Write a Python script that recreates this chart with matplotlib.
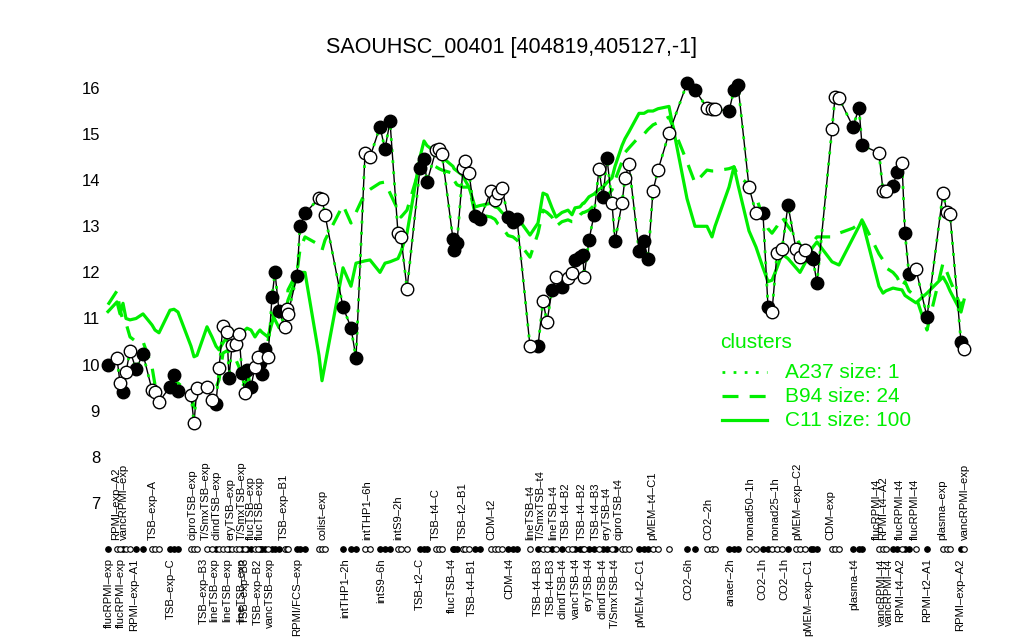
import numpy as np
import matplotlib
matplotlib.use("Agg")
import matplotlib.pyplot as plt
from matplotlib.lines import Line2D

plt.rcParams['font.family'] = ['Liberation Sans', 'DejaVu Sans']

# condition positions along the x axis, expression values, filled marker flag
pos = [8, 17, 20, 23, 26, 30, 36, 43, 52, 55, 59, 70, 74, 78, 91, 94, 97,
       107, 112, 116, 119, 123, 127, 129, 132, 136, 139, 142, 145, 147, 151, 155, 158,
       160, 162, 165, 168, 172, 175, 179, 185, 187, 188, 197, 200, 205, 219, 222, 225,
       243, 251, 256, 265, 270, 280, 285, 290, 298, 301, 307, 320, 324, 327, 336, 339,
       342, 353, 354, 357, 363, 365, 369, 375, 380, 391, 395, 398, 402, 408, 413, 417,
       430, 438, 443, 447, 452, 456, 462, 468, 472, 475, 480, 483, 484, 489, 494, 499,
       503, 507, 512, 515, 522, 525, 529, 539, 544, 548, 553, 558, 569, 587, 595, 607,
       612, 615, 629, 634, 638, 649, 656, 663, 668, 672, 677, 682, 688, 696, 700, 705,
       711, 713, 717, 732, 735, 739, 753, 759, 762, 779, 783, 786, 793, 797, 802, 805,
       809, 816, 827, 843, 847, 850, 861, 864]
expr = [9.99, 10.14, 9.60, 9.41, 9.84, 10.30, 9.90, 10.23, 9.45, 9.41, 9.19, 9.52, 9.77,
        9.43, 9.34, 8.73, 9.50, 9.52, 9.23, 9.15, 9.92, 10.84, 10.71, 9.70, 10.42, 10.45,
        10.66, 9.82, 9.38, 9.88, 9.52, 9.95, 10.17, 10.03, 9.80, 10.34, 10.17, 11.47, 12.00,
        11.16, 10.82, 11.20, 11.10, 11.93, 13.00, 13.28, 13.61, 13.60, 13.25, 11.25, 10.80,
        10.14, 14.59, 14.50, 15.16, 14.67, 15.28, 12.85, 12.77, 11.64, 14.26, 14.46, 13.96,
        14.65, 14.67, 14.57, 12.72, 12.48, 12.64, 14.26, 14.42, 14.15, 13.22, 13.16, 13.77,
        13.57, 13.72, 13.83, 13.20, 13.09, 13.16, 10.40, 10.40, 11.38, 10.92, 11.62, 11.90,
        11.68, 11.88, 11.99, 12.27, 12.34, 12.38, 11.90, 12.70, 13.25, 14.24, 13.63, 14.48,
        13.50, 12.68, 13.50, 14.04, 14.35, 12.47, 12.68, 12.28, 13.77, 14.22, 15.02, 16.10,
        15.96, 15.57, 15.54, 15.54, 15.50, 15.96, 16.06, 13.85, 13.28, 13.28, 11.26, 11.15,
        12.42, 12.50, 13.46, 12.50, 12.33, 12.48, 12.33, 12.28, 11.77, 15.10, 15.80, 15.78,
        15.16, 15.57, 14.76, 14.59, 13.77, 13.77, 13.87, 14.18, 14.37, 12.85, 11.96, 12.07,
        11.03, 13.72, 13.31, 13.27, 10.49, 10.34]
filled = [1, 0, 0, 1, 0, 0, 1, 1, 0, 0, 0, 1, 1, 1, 0, 0, 0,
          0, 0, 1, 0, 0, 0, 1, 0, 0, 0, 1, 0, 1, 1, 0, 0,
          1, 1, 1, 0, 1, 1, 1, 0, 0, 0, 1, 1, 1, 0, 0, 0,
          1, 1, 1, 0, 0, 1, 1, 1, 0, 0, 0, 1, 1, 1, 0, 0,
          0, 1, 1, 1, 0, 0, 0, 1, 1, 0, 0, 0, 0, 1, 1, 1,
          0, 1, 0, 0, 1, 0, 1, 0, 0, 1, 1, 1, 0, 1, 1, 0,
          1, 1, 0, 1, 0, 0, 0, 1, 1, 1, 0, 0, 0, 1, 1, 0,
          0, 0, 1, 1, 1, 0, 0, 1, 1, 0, 0, 0, 1, 0, 0, 0,
          1, 1, 1, 0, 0, 0, 1, 1, 1, 0, 0, 0, 1, 1, 0, 1,
          1, 0, 1, 0, 0, 0, 1, 0]
# cluster mean profiles
c11 = [11.15, 11.36, 11.10, 11.33, 11.00, 10.97, 11.00, 11.10, 10.86, 10.75, 10.69, 11.18,
       11.20, 11.14, 10.40, 10.17, 10.20, 10.82, 10.60, 10.40, 10.32, 10.47, 10.60, 10.70,
       10.75, 10.65, 10.53, 10.69, 10.75, 10.79, 10.75, 10.60, 10.70, 10.75, 10.70, 10.65,
       10.60, 10.90, 11.18, 11.03, 11.20, 11.30, 11.40, 11.90, 12.00, 12.00, 10.20, 9.65,
       10.00, 12.10, 11.70, 12.20, 12.25, 12.27, 12.00, 12.20, 12.23, 12.30, 12.45, 12.85,
       14.50, 14.85, 14.75, 14.60, 14.55, 14.50, 14.30, 14.25, 14.20, 14.10, 14.00, 13.85,
       13.42, 13.45, 13.50, 13.42, 13.40, 13.30, 13.18, 13.20, 13.20, 12.81, 13.07, 13.72,
       13.68, 13.40, 13.20, 13.30, 13.35, 13.25, 13.40, 13.42, 13.50, 13.50, 13.64, 13.70,
       13.80, 13.85, 13.95, 14.05, 14.30, 14.75, 14.90, 15.05, 15.45, 15.45, 15.50, 15.50,
       15.55, 15.60, 13.60, 13.00, 13.00, 12.77, 13.00, 13.85, 14.29, 13.90, 12.90, 12.55,
       12.10, 11.80, 11.83, 12.10, 12.40, 12.30, 12.10, 12.00, 12.20, 12.48, 12.55, 12.66,
       12.23, 12.20, 12.16, 12.75, 13.00, 13.14, 11.70, 11.55, 11.60, 11.66, 11.64, 11.62,
       11.50, 11.44, 11.34, 11.55, 11.90, 11.75, 11.60, 11.14, 11.40]
b94 = [11.30, 11.60, 11.20, 10.95, 10.90, 10.60, 10.50, 10.50, 9.95, 9.56, 9.56, 9.56,
       9.60, 9.60, 9.35, 9.08, 9.45, 9.45, 9.45, 9.50, 9.67, 10.25, 10.30, 10.32, 10.20,
       10.10, 9.95, 9.52, 9.60, 9.67, 9.80, 10.00, 10.03, 10.10, 10.10, 10.17, 10.50, 11.10,
       10.97, 10.80, 10.90, 11.30, 11.62, 12.00, 12.50, 12.77, 12.60, 12.48, 12.70, 13.46,
       13.07, 13.30, 13.72, 13.80, 13.94, 13.96, 13.72, 13.35, 13.20, 13.35, 14.30, 14.50,
       14.40, 14.29, 14.25, 14.22, 14.15, 14.00, 13.90, 13.85, 13.85, 13.85, 13.28, 13.25,
       13.20, 13.15, 13.05, 12.98, 12.80, 12.77, 12.70, 12.33, 12.85, 13.35, 13.30, 13.20,
       13.00, 13.10, 13.14, 13.10, 13.10, 13.25, 13.30, 13.30, 13.35, 13.45, 13.50, 13.57,
       13.65, 13.79, 14.00, 14.40, 14.60, 14.70, 14.94, 15.00, 15.10, 15.20, 15.25, 15.37,
       14.40, 13.94, 14.22, 14.20, 14.20, 14.25, 14.29, 14.10, 13.90, 13.64, 13.20, 12.95,
       12.85, 13.00, 13.20, 13.00, 12.77, 12.60, 12.48, 12.60, 12.66, 12.77, 12.77, 12.80,
       12.85, 12.96, 13.05, 13.14, 12.40, 12.27, 12.10, 12.00, 11.90, 11.68, 11.80, 11.60,
       11.47, 10.75, 12.20, 12.00, 11.83, 11.25, 11.45]

top_labels = ["RPMI\u2013exp\u2013A2", "vancRPMI\u2013exp", "TSB\u2013exp\u2013A", "ciproTSB\u2013exp",
              "T/SmxTSB\u2013exp", "clindTSB\u2013exp", "eryTSB\u2013exp", "T/SmxTSB\u2013exp",
              "flucTSB\u2013exp", "flucTSB\u2013exp", "TSB\u2013exp\u2013B1", "colist\u2013exp",
              "intTHP1\u20136h", "intS9\u20132h", "TSB\u2013t4\u2013C", "TSB\u2013t2\u2013B1", "CDM\u2013t2",
              "lineTSB\u2013t4", "T/SmxTSB\u2013t4", "lineTSB\u2013t4", "TSB\u2013t4\u2013B2", "TSB\u2013t4\u2013B2",
              "TSB\u2013t4\u2013B3", "eryTSB\u2013t4", "ciproTSB\u2013t4", "pMEM\u2013t4\u2013C1", "CO2\u20132h",
              "nonad50\u20131h", "nonad25\u20131h", "pMEM\u2013exp\u2013C2", "CDM\u2013exp", "flucRPMI\u2013t4",
              "RPMI\u2013t4\u2013A2", "flucRPMI\u2013t4", "flucRPMI\u2013t4", "plasma\u2013exp", "vancRPMI\u2013exp"]
top_pos = [16, 24, 53, 93, 106, 117, 130, 142, 151, 160, 184, 222, 267, 298, 336, 363, 391,
           430, 441, 453, 466, 482, 496, 507, 519, 552, 608, 650, 675, 697, 730, 777, 783,
           800, 815, 842, 865]
bottom_labels = ["flucRPMI\u2013exp", "flucRPMI\u2013exp", "RPMI\u2013exp\u2013A1", "TSB\u2013exp\u2013C",
                 "TSB\u2013exp\u2013B3", "lineTSB\u2013exp", "lineTSB\u2013exp", "lineTSB\u2013exp",
                 "TSB\u2013exp\u2013B3", "TSB\u2013exp\u2013B2", "vancTSB\u2013exp", "RPMI/FCS\u2013exp",
                 "intTHP1\u20132h", "intS9\u20136h", "TSB\u2013t2\u2013C", "flucTSB\u2013t4", "TSB\u2013t4\u2013B1",
                 "CDM\u2013t4", "TSB\u2013t4\u2013B3", "TSB\u2013t4\u2013B3", "clindTSB\u2013t4", "vancTSB\u2013t4",
                 "eryTSB\u2013t4", "clindTSB\u2013t4", "T/SmxTSB\u2013t4", "pMEM\u2013t2\u2013C1", "CO2\u20136h",
                 "anaer\u20132h", "CO2\u20131h", "CO2\u20131h", "pMEM\u2013exp\u2013C1", "plasma\u2013t4",
                 "vancRPMI\u2013t4", "vancRPMI\u2013t4", "RPMI\u2013t4\u2013A2", "RPMI\u2013t2\u2013A1",
                 "RPMI\u2013exp\u2013A2"]
bottom_pos = [9, 21, 34, 71, 104, 114, 127, 141, 145, 158, 170, 197, 245, 281, 320, 352, 372,
              409, 438, 451, 463, 476, 489, 502, 515, 540, 588, 631, 662, 684, 708, 754,
              782, 789, 800, 827, 860]

cluster_names = ["A237 size: 1", "B94 size: 24", "C11 size: 100"]

green = "#00ee00"
fig = plt.figure(figsize=(10.24, 6.4), dpi=100)
ax = fig.add_axes([100 / 1024, 40 / 640, 875 / 1024, 540 / 640])

x = np.array(pos)
y = np.array(expr)
f = np.array(filled, dtype=bool)

dotted = (0, (1, 3))
ax.plot(x, c11, color=green, lw=2.3, zorder=1)
ax.plot(x, b94, color=green, lw=2.3, dashes=(5, 3.5), zorder=1)
ax.plot(x, y, color="black", lw=1, zorder=2)
ax.plot(x, y, color=green, lw=2, linestyle=dotted, zorder=3)
ax.plot(x[f], y[f], "o", ms=9, mfc="black", mec="black", mew=1, zorder=4)
ax.plot(x[~f], y[~f], "o", ms=9, mfc="white", mec="black", mew=1, zorder=4)

# condition strip at the bottom
ax.plot(x[f], np.full(f.sum(), 6.0), "o", ms=4, mfc="black", mec="black", mew=0.8)
ax.plot(x[~f], np.full((~f).sum(), 6.0), "o", ms=4, mfc="white", mec="black", mew=0.8)

for p, t in zip(top_pos, top_labels):
    ax.text(p, 6.2, t, rotation=90, ha="center", va="bottom", fontsize=8.1)
for p, t in zip(bottom_pos, bottom_labels):
    ax.text(p, 5.8, t, rotation=90, ha="center", va="top", fontsize=8.1)

ax.set_xlim(0, 875)
ax.set_ylim(4.894, 16.607)
ax.set_yticks(range(7, 17))
ax.tick_params(axis="y", length=0, labelsize=12, pad=0)
ax.set_xticks([])
for s in ax.spines.values():
    s.set_visible(False)

fig.text(0.5, 1 - 47 / 640, "SAOUHSC_00401 [404819,405127,-1]", ha="center", va="center",
         fontsize=15.5)

# legend drawn in figure coordinates, R style
fig.text(720 / 1024, 1 - 342 / 640, "clusters", color=green, fontsize=15,
         ha="left", va="center")
styles = [dict(linestyle=dotted, lw=2), dict(dashes=(5, 3.5), lw=2.3), dict(lw=2.3)]
for i, (name, st) in enumerate(zip(cluster_names, styles)):
    yy = 1 - (372 + 24 * i) / 640
    fig.add_artist(Line2D([722 / 1024, 767 / 1024], [yy, yy], color=green, **st))
    fig.text(785 / 1024, yy, name, color=green, fontsize=15, ha="left", va="center")

fig.savefig("out.png", dpi=100)
